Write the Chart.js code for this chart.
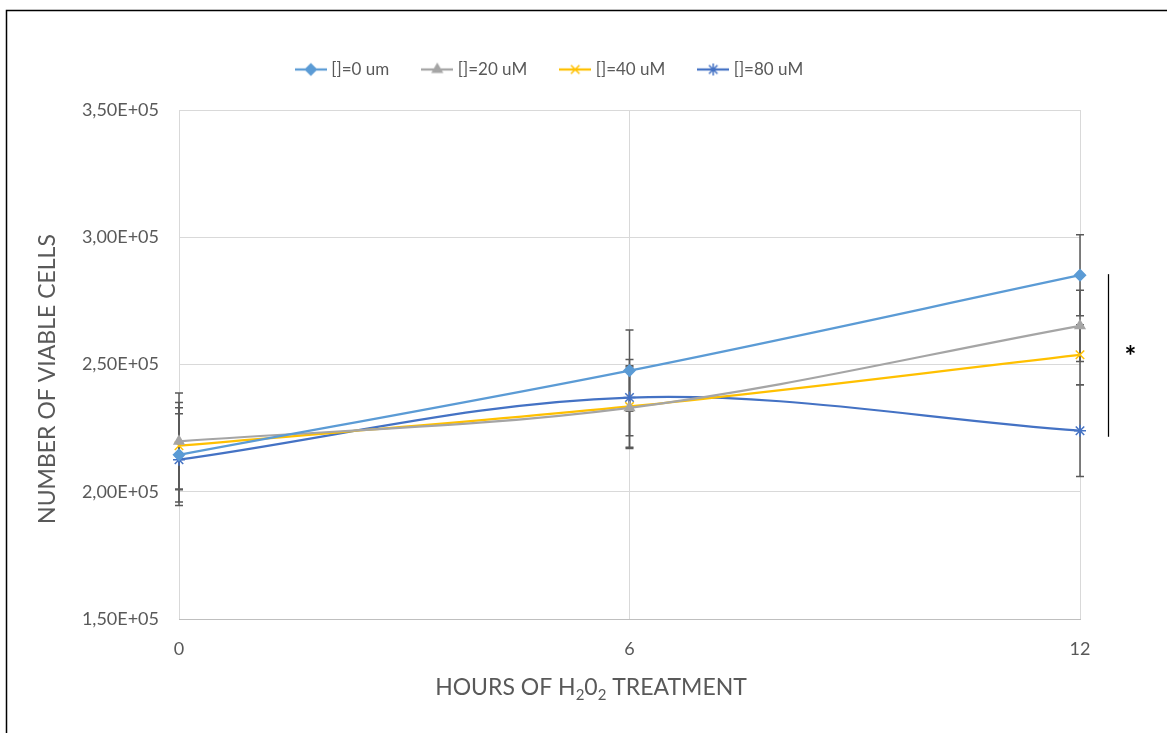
<!DOCTYPE html>
<html>
<head>
<meta charset="utf-8">
<script src="https://cdn.jsdelivr.net/npm/chart.js@4/dist/chart.umd.min.js"></script>
<style>
  html, body { margin: 0; padding: 0; background: #fff; }
</style>
</head>
<body>
<canvas id="myChart" width="1167" height="733"></canvas>
<script>
// hours of treatment (x axis)
const hours = [0, 6, 12];
const seriesNames = ['[]=0 um', '[]=20 uM', '[]=40 uM', '[]=80 uM'];

// number of viable cells per concentration
const viable0  = [214500, 247600, 285100];
const viable20 = [219800, 233000, 265200];
const viable40 = [218100, 233500, 253800];
const viable80 = [212600, 237000, 224000];

// error bar half-lengths
const err0  = [18500, 16000, 15900];
const err20 = [19000, 16000, 14000];
const err40 = [17000, 16000, 11800];
const err80 = [18000, 15000, 18000];

// y axis ticks
const yMin = 150000, yMax = 350000, yStep = 50000;

// significance bracket (y values) and mark
const bracketTop = 285500, bracketBottom = 221600;
const bracketMark = '*';

const colors  = ['#5B9BD5', '#A5A5A5', '#FFC000', '#4472C4'];
const markers = ['rectRot', 'triangle', 'crossRot', 'star'];
const radii   = [5.5, 5.5, 6, 6];
const values  = [viable0, viable20, viable40, viable80];
const errors  = [err0, err20, err40, err80];

const textColor = '#595959';
const fontName = 'Lato, "Open Sans", sans-serif';
const topPad = 25;
const leftPad = 22;

function sciLabel(v){
	let e = Math.floor(Math.log10(Math.abs(v)));
	let m = v / Math.pow(10, e);
	return m.toFixed(2).replace('.', ',') + 'E+' + String(e).padStart(2, '0');
}

// small line + marker pictures for the legend
function legendIcon(color, style, r){
	let c = document.createElement('canvas');
	c.width = 32; c.height = 16;
	let g = c.getContext('2d');
	g.strokeStyle = color; g.fillStyle = color; g.lineWidth = 2.25;
	g.beginPath(); g.moveTo(0, 8); g.lineTo(32, 8); g.stroke();
	g.lineWidth = 1.5;
	Chart.helpers.drawPoint(g, {pointStyle: style, radius: r, borderWidth: 1.5, rotation: 0}, 16, 8);
	return c;
}
const legendIcons = colors.map((c, i) => legendIcon(c, markers[i], radii[i]));

const datasets = seriesNames.map((name, i) => ({
	label           : name,
	data            : hours.map((h, j) => ({x: h, y: values[i][j]})),
	borderColor     : colors[i],
	backgroundColor : colors[i],
	borderWidth     : 2.25,
	pointStyle      : markers[i],
	pointRadius     : radii[i],
	pointBorderWidth: 1.5,
	tension         : 0.35,
	clip            : false,
	errors          : errors[i]
}));

const errorBars = {
	id: 'errorBars',
	beforeDatasetsDraw(chart){
		let ctx = chart.ctx, xs = chart.scales.x, ys = chart.scales.y;
		ctx.save();
		ctx.strokeStyle = '#595959';
		ctx.lineWidth = 1.5;
		chart.data.datasets.forEach(ds => {
			ds.data.forEach((p, j) => {
				let x = xs.getPixelForValue(p.x);
				let y1 = ys.getPixelForValue(p.y + ds.errors[j]);
				let y2 = ys.getPixelForValue(p.y - ds.errors[j]);
				ctx.beginPath();
				ctx.moveTo(x, y1); ctx.lineTo(x, y2);
				ctx.moveTo(x - 4, y1); ctx.lineTo(x + 4, y1);
				ctx.moveTo(x - 4, y2); ctx.lineTo(x + 4, y2);
				ctx.stroke();
			});
		});
		ctx.restore();
	}
};

// legend box tall enough to push the plot down
const legendHeight = {
	id: 'legendHeight',
	beforeInit(chart){
		let lg = chart.legend;
		let fit = lg.fit;
		lg.fit = function(){
			fit.call(lg);
			lg.height = 110 - topPad;
		};
	}
};

function drawParts(ctx, parts, cx, cy, size){
	let big = size + 'px ' + fontName, small = Math.round(size * 0.65) + 'px ' + fontName;
	let w = 0;
	parts.forEach(p => { ctx.font = p[1] ? small : big; w += ctx.measureText(p[0]).width; });
	let x = cx - w / 2;
	parts.forEach(p => {
		ctx.font = p[1] ? small : big;
		ctx.fillText(p[0], x, cy + (p[1] ? size * 0.3 : 0));
		x += ctx.measureText(p[0]).width;
	});
}

const extras = {
	id: 'extras',
	afterDraw(chart){
		let ctx = chart.ctx, ys = chart.scales.y, area = chart.chartArea;
		ctx.save();
		// outer frame
		ctx.strokeStyle = '#000';
		ctx.lineWidth = 1.5;
		ctx.strokeRect(6.5, 10.5, 1300, 900);
		// axis titles
		ctx.fillStyle = textColor;
		ctx.textBaseline = 'middle';
		ctx.textAlign = 'left';
		drawParts(ctx, [['HOURS OF H', 0], ['2', 1], ['0', 0], ['2', 1], [' TREATMENT', 0]], 591, 688, 23);
		ctx.save();
		ctx.translate(48, 379);
		ctx.rotate(-Math.PI / 2);
		drawParts(ctx, [['NUMBER OF VIABLE CELLS', 0]], 0, 0, 23);
		ctx.restore();
		// significance bracket
		let bx = area.right + 28.5;
		ctx.strokeStyle = '#000';
		ctx.lineWidth = 1.25;
		ctx.beginPath();
		ctx.moveTo(bx, ys.getPixelForValue(bracketTop));
		ctx.lineTo(bx, ys.getPixelForValue(bracketBottom));
		ctx.stroke();
		ctx.fillStyle = '#000';
		ctx.textAlign = 'center';
		ctx.textBaseline = 'alphabetic';
		ctx.font = 'bold 28px ' + fontName;
		let m = ctx.measureText(bracketMark);
		ctx.fillText(bracketMark, bx + 22, 350 + (m.actualBoundingBoxAscent - m.actualBoundingBoxDescent) / 2);
		ctx.restore();
	}
};

let ctx = document.getElementById('myChart').getContext('2d');
let chart = new Chart(ctx, {
	type: 'line',
	data: { datasets: datasets },
	plugins: [legendHeight, errorBars, extras],
	options: {
		responsive: false,
		animation: false,
		layout: { padding: { left: leftPad, right: 87, top: topPad, bottom: 0 } },
		plugins: {
			tooltip: { enabled: false },
			legend: {
				position: 'top',
				labels: {
					usePointStyle  : true,
					pointStyleWidth: 24,
					padding        : 36,
					color          : textColor,
					font           : { family: fontName, size: 17 },
					generateLabels(chart){
						let items = Chart.defaults.plugins.legend.labels.generateLabels(chart);
						items.forEach((it, i) => { it.pointStyle = legendIcons[i]; it.rotation = 0; });
						return items;
					}
				}
			}
		},
		scales: {
			x: {
				type: 'linear',
				min: hours[0],
				max: hours[hours.length - 1],
				afterFit(scale){ scale.height = 114; },
				ticks: { stepSize: 6, padding: 19, color: textColor, font: { family: fontName, size: 18 } },
				grid: { color: '#D9D9D9', drawTicks: false },
				border: { color: '#BFBFBF' }
			},
			y: {
				min: yMin,
				max: yMax,
				afterFit(scale){ scale.width = 179 - leftPad; },
				ticks: { stepSize: yStep, padding: 20, color: textColor, font: { family: fontName, size: 18 }, callback: v => sciLabel(v) },
				grid: { color: '#D9D9D9', drawTicks: false },
				border: { display: false }
			}
		}
	}
});
</script>
</body>
</html>
